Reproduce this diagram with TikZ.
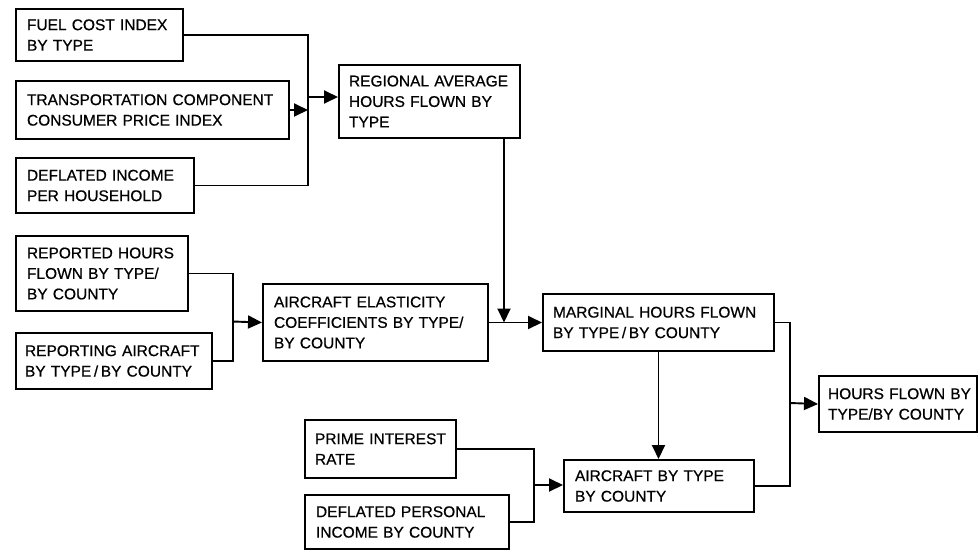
\documentclass[tikz,border=0pt]{standalone}
\usepackage{fontspec}
\setmainfont{Liberation Sans}[FakeBold=0.6]
\usetikzlibrary{arrows.meta}
\newcommand\nohyph{\hyphenpenalty=10000 \exhyphenpenalty=10000 \lefthyphenmin=60 \relax}
\begin{document}
\begin{tikzpicture}[x=1pt,y=-1pt,
  box/.style={draw, line width=2pt, anchor=north west, inner xsep=11pt, inner ysep=0pt,
    align=left, font=\fontsize{15.5}{20.5}\selectfont, execute at begin node=\nohyph},
  conn/.style={line width=1.9pt},
  arr/.style={conn, -{Triangle[length=14pt,width=13pt]}}]
\useasboundingbox (0,0) rectangle (979,550);

\node[box, minimum width=167pt, minimum height=52pt, text width=145pt] (b1) at (15,8) {FUEL~COST~INDEX\\BY~TYPE};
\node[box, minimum width=273pt, minimum height=58pt, text width=251pt] (b2) at (15,80) {TRANSPORTATION~COMPONENT\\CONSUMER~PRICE~INDEX};
\node[box, minimum width=178pt, minimum height=55pt, text width=156pt] (b3) at (15,157) {DEFLATED~INCOME\\PER~HOUSEHOLD};
\node[box, minimum width=181pt, minimum height=73pt, text width=161pt, inner xsep=10pt] (b4) at (338,64) {REGIONAL~AVERAGE\\HOURS~FLOWN~BY\\TYPE};
\node[box, minimum width=172pt, minimum height=75pt, text width=150pt] (b5) at (15,235) {REPORTED~HOURS\\FLOWN~BY~TYPE/\\BY~COUNTY};
\node[box, minimum width=196pt, minimum height=56pt, text width=178pt, inner xsep=9pt] (b6) at (15,332) {REPORTING~AIRCRAFT\\BY~TYPE\,/\,BY~COUNTY};
\node[box, minimum width=225pt, minimum height=77pt, text width=203pt] (b7) at (262,283) {AIRCRAFT~ELASTICITY\\COEFFICIENTS~BY~TYPE/\\BY~COUNTY};
\node[box, minimum width=231pt, minimum height=57pt, text width=211pt, inner xsep=10pt] (b8) at (542,293) {MARGINAL~HOURS~FLOWN\\BY~TYPE\,/\,BY~COUNTY};
\node[box, minimum width=158pt, minimum height=56pt, text width=140pt, inner xsep=9pt] (b9) at (818,375) {HOURS~FLOWN~BY\\TYPE/BY~COUNTY};
\node[box, minimum width=151pt, minimum height=58pt, text width=131pt, inner xsep=10pt] (b10) at (304,419) {PRIME~INTEREST\\RATE};
\node[box, minimum width=204pt, minimum height=54pt, text width=182pt] (b11) at (304,494) {DEFLATED~PERSONAL\\INCOME~BY~COUNTY};
\node[box, minimum width=190pt, minimum height=52pt, text width=168pt] (b12) at (563,459) {AIRCRAFT~BY~TYPE\\BY~COUNTY};

% first junction
\coordinate (bus1) at (308,97);
\draw[conn] (b1.east) -| (bus1);
\draw[conn] (b3.east) -| (bus1);
\draw[arr] (b2.east) -- (b2.east -| bus1);
\draw[arr] (bus1) -- (bus1 -| b4.west);

% second junction
\coordinate (bus2) at (233,321.5);
\draw[conn] (b5.east) -| (bus2);
\draw[conn] (b6.east) -| (bus2);
\draw[arr] (bus2) -- (b7.west);

% elasticity and regional into marginal
\coordinate (d4) at ([xshift=-17pt]b4.south east);
\draw[arr] (d4) -- (d4 |- b7.east);
\draw[arr] (b7.east) -- (b8.west);

% bottom junction
\coordinate (bus4) at (534,485);
\draw[conn] (b10.east) -| (bus4);
\draw[conn] (b11.east) -| (bus4);
\draw[arr] (bus4) -- (bus4 -| b12.west);

% marginal down to aircraft
\draw[arr] (b8.south) -- (b8.south |- b12.north);

% right junction
\coordinate (bus3) at (790,403);
\draw[conn] (b8.east) -| (bus3);
\draw[conn] (b12.east) -| (bus3);
\draw[arr] (bus3) -- (b9.west);
\end{tikzpicture}
\end{document}
